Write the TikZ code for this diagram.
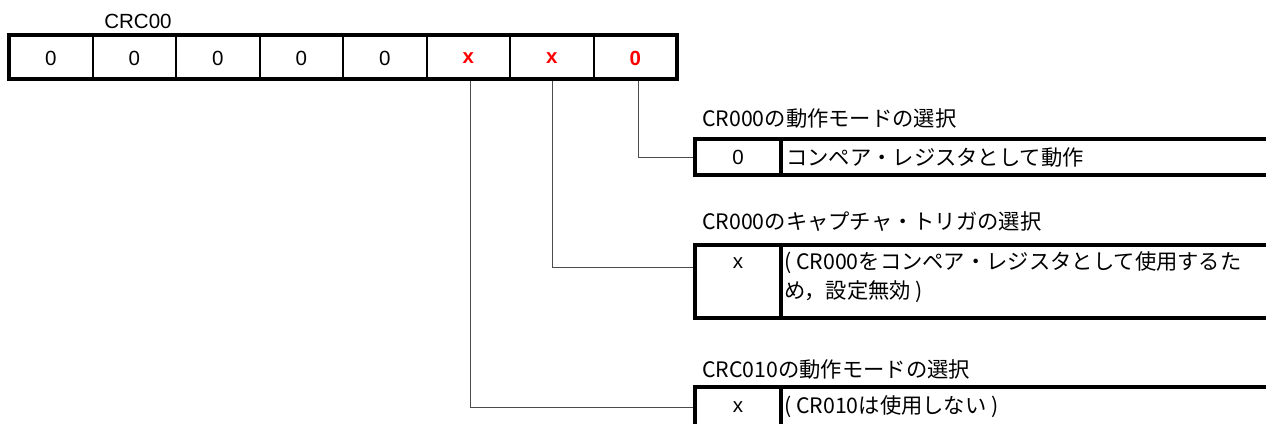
\documentclass[tikz,border=0pt]{standalone}
\usepackage{fontspec}
\setmainfont{Liberation Sans}
\newfontfamily\jpfont{Noto Sans CJK JP}
\begin{document}
\begin{tikzpicture}[x=1pt,y=-1pt,
  regtext/.style={font=\fontsize{20.5}{22}\selectfont, inner sep=0pt},
  redbit/.style={regtext, text=red, font=\fontsize{20.5}{22}\selectfont\bfseries},
  lbl/.style={font=\jpfont\fontsize{21.3}{24}\selectfont, inner sep=0pt, anchor=west},
  celltext/.style={font=\jpfont\fontsize{21.3}{29}\selectfont, inner sep=0pt},
  thick box/.style={line width=4pt},
  thin div/.style={line width=2pt},
  conn/.style={line width=1pt, draw=black!70}
]
\useasboundingbox (0,0) rectangle (1266,423);
\clip (0,0) rectangle (1266,423);

% register title
\node[regtext] (title) at (138,21) {CRC00};

% register cells
\foreach \i/\v in {0/0,1/0,2/0,3/0,4/0}{
  \node[regtext] (c\i) at ({9+83.5*\i+41.75},58) {\v};
}
\node[redbit] (c5) at ({9+83.5*5+41.75},58) {x};
\node[redbit] (c6) at ({9+83.5*6+41.75},58) {x};
\node[redbit] (c7) at ({9+83.5*7+41.75},58) {0};
\foreach \i in {1,...,7}{
  \draw[thin div] ({9+83.5*\i},35) -- ({9+83.5*\i},79);
}
\draw[thick box] (9,35) rectangle (677,79);

% connector start points at register bottom
\coordinate (s5) at (470,81);
\coordinate (s6) at (552,81);
\coordinate (s7) at (638,81);

% table 1
\node[lbl] (l1) at (702,118) {CR000の動作モードの選択};
\draw[thick box] (1270,139) -- (695,139) -- (695,175) -- (1270,175);
\draw[thick box] (781,139) -- (781,175);
\node[regtext] (v1) at (738,157) {0};
\node[celltext, anchor=west] (t1) at (786,157) {コンペア・レジスタとして動作};
\coordinate (e1) at (693,157);

% table 2
\node[lbl] (l2) at (702,222) {CR000のキャプチャ・トリガの選択};
\draw[thick box] (1270,245) -- (695,245) -- (695,318) -- (1270,318);
\draw[thick box] (781,245) -- (781,318);
\node[regtext] (v2) at (738,263) {x};
\node[celltext, anchor=north west, align=left] (t2) at (784,251) {( CR000をコンペア・レジスタとして使用するた\\め，設定無効 )};
\coordinate (e2) at (693,267);

% table 3
\node[lbl] (l3) at (702,369) {CRC010の動作モードの選択};
\draw[thick box] (1270,387) -- (695,387) -- (695,430);
\draw[thick box] (781,387) -- (781,430);
\node[regtext] (v3) at (738,407) {x};
\node[celltext, anchor=west] (t3) at (784,407) {( CR010は使用しない )};
\coordinate (e3) at (693,407);

% connectors
\draw[conn] (s7) |- (e1);
\draw[conn] (s6) |- (e2);
\draw[conn] (s5) |- (e3);
\end{tikzpicture}
\end{document}
